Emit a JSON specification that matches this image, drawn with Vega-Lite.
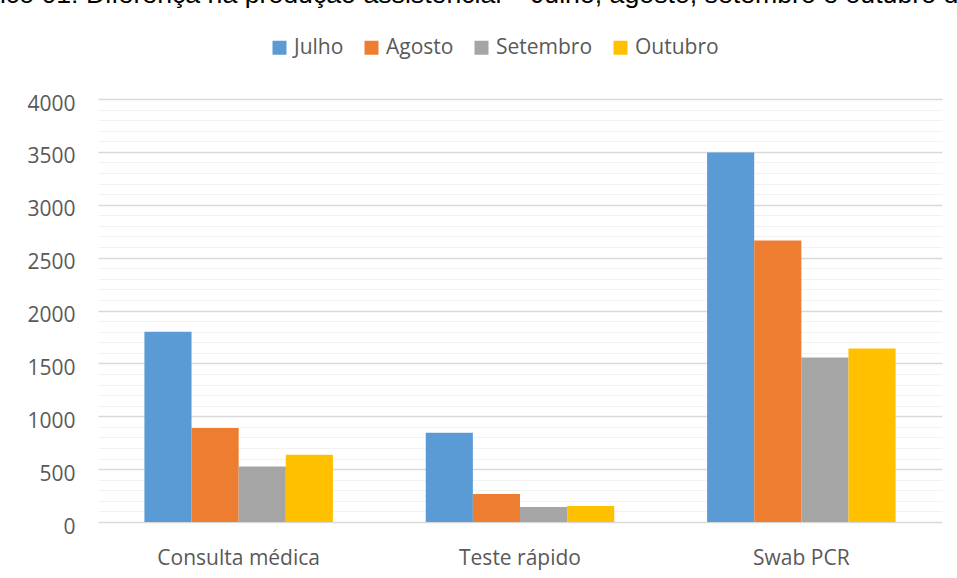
{
  "$schema": "https://vega.github.io/schema/vega-lite/v6.json",
  "autosize": "none",
  "width": 844,
  "height": 423,
  "padding": {"left": 98, "top": 99, "right": 15, "bottom": 56},
  "background": "white",
  "title": {
    "text": "Gráfico 01: Diferença na produção assistencial – Julho, agosto, setembro e outubro de 2020",
    "anchor": "start",
    "frame": "group",
    "font": "Liberation Sans",
    "fontSize": 26.7,
    "fontWeight": "normal",
    "color": "#000000",
    "baseline": "alphabetic",
    "offset": 0,
    "dx": -150,
    "dy": -7
  },
  "data": {
    "values": [
      {"categoria": "Consulta médica", "mes": "Julho", "valor": 1800},
      {"categoria": "Consulta médica", "mes": "Agosto", "valor": 890},
      {"categoria": "Consulta médica", "mes": "Setembro", "valor": 525},
      {"categoria": "Consulta médica", "mes": "Outubro", "valor": 635},
      {"categoria": "Teste rápido", "mes": "Julho", "valor": 845},
      {"categoria": "Teste rápido", "mes": "Agosto", "valor": 265},
      {"categoria": "Teste rápido", "mes": "Setembro", "valor": 142},
      {"categoria": "Teste rápido", "mes": "Outubro", "valor": 152},
      {"categoria": "Swab PCR", "mes": "Julho", "valor": 3495},
      {"categoria": "Swab PCR", "mes": "Agosto", "valor": 2663},
      {"categoria": "Swab PCR", "mes": "Setembro", "valor": 1555},
      {"categoria": "Swab PCR", "mes": "Outubro", "valor": 1640}
    ]
  },
  "mark": {"type": "bar"},
  "encoding": {
    "x": {
      "field": "categoria",
      "type": "nominal",
      "sort": null,
      "title": null,
      "scale": {"paddingInner": 0.33, "paddingOuter": 0.165},
      "axis": {
        "domain": false,
        "ticks": false,
        "tickSize": 0,
        "labelAngle": 0,
        "labelPadding": 25,
        "labelFont": "Open Sans",
        "labelFontSize": 21,
        "labelColor": "#595959",
        "grid": false
      }
    },
    "xOffset": {
      "field": "mes",
      "type": "nominal",
      "sort": null,
      "scale": {"paddingInner": 0, "paddingOuter": 0}
    },
    "y": {
      "field": "valor",
      "type": "quantitative",
      "title": null,
      "scale": {"domain": [0, 4000], "nice": false},
      "axis": {
        "domain": false,
        "ticks": false,
        "tickSize": 0,
        "tickCount": 40,
        "format": "d",
        "labelPadding": 23,
        "labelOffset": 5,
        "labelFont": "Open Sans",
        "labelFontSize": 21,
        "labelColor": "#595959",
        "labelExpr": "datum.value % 500 === 0 ? datum.label : ''",
        "labelOverlap": false,
        "labelFlush": false,
        "grid": true,
        "gridColor": {"condition": {"test": "datum.value % 500 === 0", "value": "#d9d9d9"}, "value": "#f2f2f2"},
        "gridWidth": {"condition": {"test": "datum.value % 500 === 0", "value": 1.5}, "value": 1.2}
      }
    },
    "color": {
      "field": "mes",
      "type": "nominal",
      "sort": null,
      "title": null,
      "scale": {
        "domain": ["Julho", "Agosto", "Setembro", "Outubro"],
        "range": ["#5B9BD5", "#ED7D31", "#A5A5A5", "#FFC000"]
      },
      "legend": {
        "orient": "none",
        "direction": "horizontal",
        "legendX": 171,
        "legendY": -62,
        "padding": 0,
        "symbolType": "square",
        "symbolSize": 196,
        "symbolStrokeWidth": 0,
        "labelOffset": 4,
        "columnPadding": 17,
        "labelFont": "Open Sans",
        "labelFontSize": 21,
        "labelColor": "#595959"
      }
    }
  },
  "config": {
    "view": {"stroke": null}
  }
}
